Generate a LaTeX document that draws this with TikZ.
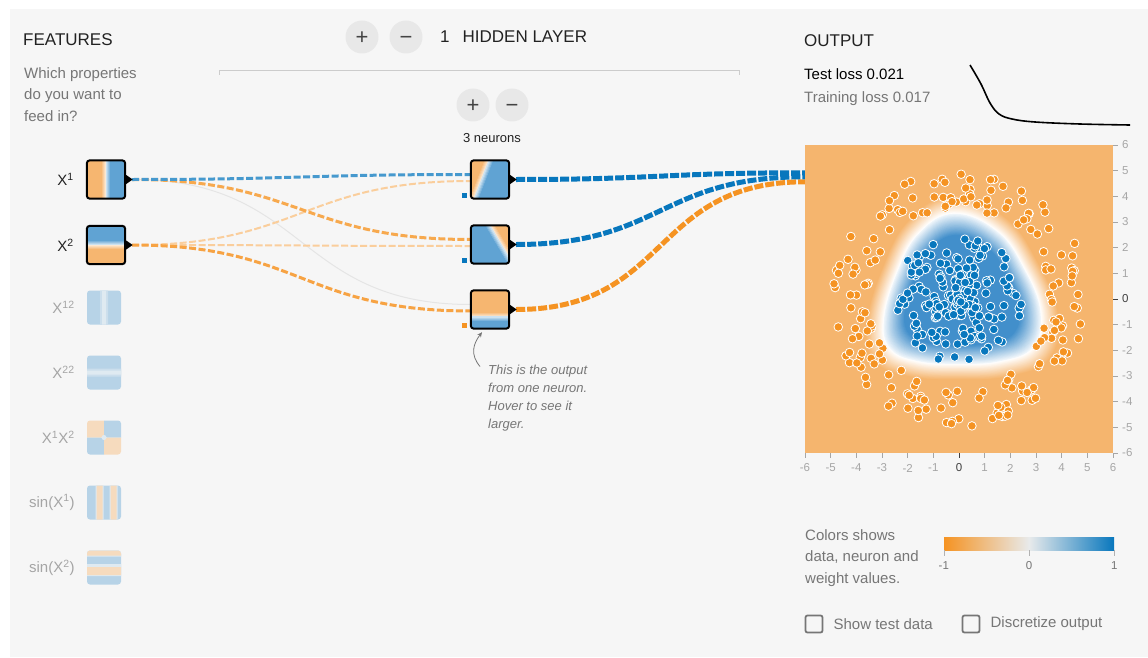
\documentclass[tikz,border=0pt]{standalone}
\usepackage{fontspec}
\setmainfont{Liberation Sans}
\usetikzlibrary{arrows.meta}
\usetikzlibrary{positioning}
\usetikzlibrary{calc}

\definecolor{panelbg}{RGB}{246,246,246}
\definecolor{pgOrange}{RGB}{245,147,34}
\definecolor{pgBlue}{RGB}{8,119,189}
\definecolor{imgOrange}{RGB}{246,182,112}
\definecolor{imgBlue}{RGB}{96,163,211}
\definecolor{heatOrange}{RGB}{245,181,110}
\definecolor{heatBlue}{RGB}{66,143,203}
\definecolor{midGrey}{RGB}{232,234,235}
\definecolor{txtDark}{RGB}{34,34,34}
\definecolor{txtGrey}{RGB}{118,118,118}
\definecolor{txtFaint}{RGB}{165,165,165}
\definecolor{btnFill}{RGB}{232,232,232}
\colorlet{gB}{imgBlue!42!panelbg}
\colorlet{gO}{imgOrange!42!panelbg}
\colorlet{gL}{imgBlue!15!panelbg}

\tikzset{
    head/.style={anchor=base west, inner sep=0pt, text=txtDark, font=\fontsize{17}{20}\selectfont},
    body/.style={anchor=north west, inner sep=0pt, align=left, text=txtGrey, font=\fontsize{15}{21.5}\selectfont},
    btn/.style={circle, fill=btnFill, minimum size=33pt, inner sep=0pt, text=txtDark!85,
        font=\fontsize{22}{22}\selectfont, text height=15pt, text depth=0pt},
    unit/.style={minimum size=38pt, inner sep=0pt},
    ghost/.style={rounded corners=3pt, minimum size=34pt, inner sep=0pt},
    flbl/.style={inner sep=0pt, text=txtDark, font=\fontsize{15}{18}\selectfont},
    glbl/.style={inner sep=0pt, text=txtFaint, font=\fontsize{15}{18}\selectfont},
    wire/.style={out=0, in=180, looseness=1.25},
    thinwire/.style={wire, line width=2pt, dash pattern=on 7pt off 2.5pt},
    midwire/.style={wire, line width=3pt, dash pattern=on 7pt off 2.5pt},
    fatwire/.style={wire, line width=5pt, dash pattern=on 9pt off 2pt},
    dotO/.style={fill=pgOrange, draw=white, line width=0.8pt},
    dotB/.style={fill=pgBlue, draw=white, line width=0.8pt},
    axlbl/.style={inner sep=0pt, text=txtFaint, font=\fontsize{11.5}{12}\selectfont},
    chk/.style={draw=txtGrey, line width=1.8pt, rounded corners=2pt, minimum size=17pt, inner sep=0pt},
    small/.style={inner sep=0pt, font=\fontsize{15}{18}\selectfont},
}

% 神经元图像: 节点, 旋转角, 偏移 x, 偏移 y
\newcommand\unitimg[4]{%
    \begin{scope}
        \clip[rounded corners=3pt] (#1.north west) rectangle (#1.south east);
        \begin{scope}[shift={($(#1.center)+(#3,#4)$)}, rotate=#2]
            \fill[imgOrange] (-60,-60) rectangle (-4.5,60);
            \fill[imgBlue] (4.5,-60) rectangle (60,60);
            \foreach \k [evaluate=\k as \p using int(100-17*\k)] in {0,...,4}{
                \fill[imgOrange!\p!white] (-5+\k,-60) rectangle ++(1.3,120);
                \fill[imgBlue!\p!white] (5-\k,-60) rectangle ++(-1.3,120);
            }
        \end{scope}
    \end{scope}
    \draw[line width=2pt, rounded corners=3pt] (#1.north west) rectangle (#1.south east);
    \fill (#1.east) ++(1,-4.5) -- ++(6.5,4.5) -- ++(-6.5,4.5) -- cycle;}
\newcommand\imgsqa{%
    \begin{scope}[shift={(path picture bounding box.center)}]
        \fill[gB] (-20,-20) rectangle (20,20);
        \fill[gB!50!gL] (-4,-20) rectangle (4,20);
        \fill[gL] (-2,-20) rectangle (2,20);
    \end{scope}}
\newcommand\imgsqb{%
    \begin{scope}[shift={(path picture bounding box.center)}]
        \fill[gB] (-20,-20) rectangle (20,20);
        \fill[gB!50!gL] (-20,-4) rectangle (20,4);
        \fill[gL] (-20,-2) rectangle (20,2);
    \end{scope}}
\newcommand\imgprod{%
    \begin{scope}[shift={(path picture bounding box.center)}]
        \fill[gO] (-20,-20) rectangle (0,0);
        \fill[gB] (0,-20) rectangle (20,0);
        \fill[gB] (-20,0) rectangle (0,20);
        \fill[gO] (0,0) rectangle (20,20);
        \fill[gL] (0,0) circle (2.5);
    \end{scope}}
\newcommand\imgsina{%
    \begin{scope}[shift={(path picture bounding box.center)}]
        \fill[gB] (-20,-20) rectangle (20,20);
        \foreach \a in {-8.5,5.5}{
            \fill[gL] (\a,-20) rectangle ++(8,40);
            \fill[gO] (\a+1,-20) rectangle ++(6,40);
        }
    \end{scope}}
\newcommand\imgsinb{%
    \begin{scope}[shift={(path picture bounding box.center)}]
        \fill[gB] (-20,-20) rectangle (20,20);
        \foreach \a in {-21,-1.5}{
            \fill[gL] (-20,\a) rectangle ++(40,10);
            \fill[gO] (-20,\a+1) rectangle ++(40,8);
        }
        \fill[gL] (-20,-3.5) rectangle ++(40,2);
    \end{scope}}
\def\blobpath{plot[smooth cycle, tension=0.7] coordinates {(-0.2,3.35) (1.5,2.65) (2.55,1.2) (3.2,-0.5) (2.9,-1.9) (1.6,-2.45) (0,-2.55) (-1.6,-2.45) (-2.7,-1.95) (-2.95,-0.8) (-2.45,1.0) (-1.6,2.55)}}

\begin{document}
\begin{tikzpicture}[x=1pt, y=-1pt]
    \useasboundingbox (0,0) rectangle (1148,658);
    \fill[white] (0,0) rectangle (1148,658);
    \fill[panelbg] (10,9) rectangle (1148,657);

    % 标题和按钮
    \node[head] (feat) at (23,46) {FEATURES};
    \node[body] (featq) at (24,67) {Which properties\\do you want to\\feed in?};
    \node[btn] (addlayer) at (362,37) {+};
    \node[btn] (dellayer) at (406,37) {−};
    \node[head] (layers) at (440,43) {1\hspace{13pt}HIDDEN LAYER};
    \draw[black!20] (219,75) -- (219,70) -- (739,70) -- (739,75);
    \node[btn] (addunit) at (473,105) {+};
    \node[btn] (delunit) at (512,105) {−};
    \node[inner sep=0pt, text=txtDark, font=\fontsize{13}{15}\selectfont] (units) at (492,138) {3 neurons};
    \node[head] (outhead) at (804,47) {OUTPUT};

    % 节点
    \node[unit] (x1) at (106,179.5) {};
    \node[unit] (x2) at (106,245) {};
    \node[unit] (n1) at (490,179.5) {};
    \node[unit] (n2) at (490,244.5) {};
    \node[unit] (n3) at (490,309.5) {};
    \node[minimum size=308pt, inner sep=0pt] (out) at (959,299) {};

    % 连线
    \draw[wire, black!10, line width=1pt] ([xshift=7pt]x1.east) to ([yshift=5pt]n3.west);
    \draw[thinwire, pgOrange!45!white] ([xshift=7pt]x2.east) to ([yshift=-1.5pt]n1.west);
    \draw[thinwire, pgOrange!45!white] ([xshift=7pt]x2.east) to ([yshift=-1.5pt]n2.west);
    \draw[midwire, pgOrange!85!white] ([xshift=7pt]x2.east) to ([yshift=-1.5pt]n3.west);
    \draw[midwire, pgOrange!80!white] ([xshift=7pt]x1.east) to ([yshift=5pt]n2.west);
    \draw[midwire, pgBlue!75!white] ([xshift=7pt]x1.east) to ([yshift=5pt]n1.west);
    \draw[fatwire, pgOrange] ([xshift=7pt]n3.east) to ([yshift=-37pt]out.north west);
    \draw[fatwire, pgBlue] ([xshift=7pt]n2.east) to ([yshift=-32pt]out.north west);
    \draw[fatwire, pgBlue] ([xshift=7pt]n1.east) to ([yshift=-28pt]out.north west);

    % 输入特征和隐藏层图像
    \unitimg{x1}{0}{0}{0}
    \unitimg{x2}{90}{0}{0}
    \unitimg{n1}{-21}{-8.5}{0}
    \unitimg{n2}{210.5}{9.5}{-3}
    \unitimg{n3}{-90}{0}{7}
    \node[flbl, left=13pt of x1] (x1lbl) {X\textsuperscript{1}};
    \node[flbl, left=13pt of x2] (x2lbl) {X\textsuperscript{2}};
    \foreach \lbl/\img [count=\n, evaluate=\n as \yy using 307.5+65*(\n-1)] in
        {X\textsuperscript{12}/\imgsqa, X\textsuperscript{22}/\imgsqb,
         X\textsuperscript{1}X\textsuperscript{2}/\imgprod,
         sin(X\textsuperscript{1})/\imgsina, sin(X\textsuperscript{2})/\imgsinb}{
            \node[ghost, path picture={\img}] (g\n) at (104,\yy) {};
            \node[glbl, left=12pt of g\n] (gl\n) {\lbl};
        }
    \fill[pgBlue] ([shift={(-9,-1)}]n1.south west) rectangle ++(5,-5);
    \fill[pgBlue] ([shift={(-9,-1)}]n2.south west) rectangle ++(5,-5);
    \fill[pgOrange] ([shift={(-9,-1)}]n3.south west) rectangle ++(5,-5);

    % 输出热图
    \fill[heatOrange] (out.north west) rectangle (out.south east);
    \begin{scope}[shift={(out.center)}, x=25.67pt, y=25.67pt]
        \begin{scope}
            \clip (-6,-6) rectangle (6,6);
            \foreach \k [evaluate=\k as \sc using 1.22-0.01*\k, evaluate=\k as \pc using int(100-4.5*\k)] in {0,...,22}
                \fill[heatOrange!\pc!white, scale around={\sc:(0.1,0.2)}] \blobpath;
            \foreach \k [evaluate=\k as \sc using 0.99-0.01*\k, evaluate={\k as \pc using int(min(100,8+3.5*\k))}] in {0,...,30}
                \fill[heatBlue!\pc!white, scale around={\sc:(0.1,0.2)}] \blobpath;
            \pgfmathsetseed{17}
            \foreach \i in {1,...,200}{
                \pgfmathsetmacro\ang{360*rnd}
                \pgfmathsetmacro\rad{3.5+1.5*rnd}
                \fill[dotO] (\ang:\rad) circle (4.3pt);
                \pgfmathsetmacro\ang{360*rnd}
                \pgfmathsetmacro\rad{2.5*rnd}
                \fill[dotB] (\ang:\rad) circle (4.3pt);
            }
        \end{scope}
        \foreach \v [count=\n] in {6,5,...,-6}{
            \pgfmathtruncatemacro\tone{ifthenelse(\v==0,75,35)}
            \draw[black!\tone] (6,\v) -- ++(5pt,0);
            \node[axlbl, text=black!\tone, anchor=west] (ry\n) at ([xshift=9pt]6,\v) {\v};
        }
        \foreach \v [count=\n] in {-6,...,6}{
            \pgfmathtruncatemacro\tone{ifthenelse(\v==0,75,35)}
            \draw[black!\tone] (\v,-6) -- ++(0,-5pt);
            \node[axlbl, text=black!\tone] (rx\n) at ([yshift=-15pt]\v,-6) {\v};
        }
    \end{scope}

    % 损失
    \node[small, anchor=base west, text=black] (testloss) at (804,80) {Test loss 0.021};
    \node[small, anchor=base west, text=txtGrey] (trainloss) at (804,103) {Training loss 0.017};
    \draw[line width=1.6pt, line join=round] plot[smooth, tension=0.6] coordinates
        {(970,65) (981,84) (990,103) (999,114) (1012,119) (1035,122) (1080,124) (1130,125)};

    % 提示
    \node[anchor=north west, inner sep=0pt, align=left, text=txtGrey,
        font=\fontsize{13}{18}\selectfont\itshape] (hint) at (488,364.5)
        {This is the output\\from one neuron.\\Hover to see it\\larger.};
    \draw[-{Stealth[length=5pt, width=4.5pt]}, txtGrey, line width=0.8pt]
        ([shift={(-8,2)}]hint.north west) .. controls +(-10,-12) and +(-9,12) .. ([shift={(-8,3.5)}]n3.south);

    % 图例
    \node[body] (legend) at (805,529) {Colors shows\\data, neuron and\\weight values.};
    \node[minimum width=170pt, minimum height=13pt, inner sep=0pt,
        left color=pgOrange, right color=pgBlue, middle color=midGrey] (bar) at (1029,543.5) {};
    \foreach \p/\t [count=\n] in {0/-1, 0.5/0, 1/1}
        \draw[black!30] ($(bar.south west)!\p!(bar.south east)$) -- ++(0,6)
            node[axlbl, text=txtGrey, below=5pt] (bartick\n) {\t};

    \node[chk] (showtest) at (814,624) {};
    \node[small, text=txtGrey, right=10pt of showtest] (showtestlbl) {Show test data};
    \node[chk] (discrete) at (971,624) {};
    \node[small, text=txtGrey, right=10pt of discrete] (discretelbl) {Discretize output};
\end{tikzpicture}
\end{document}
